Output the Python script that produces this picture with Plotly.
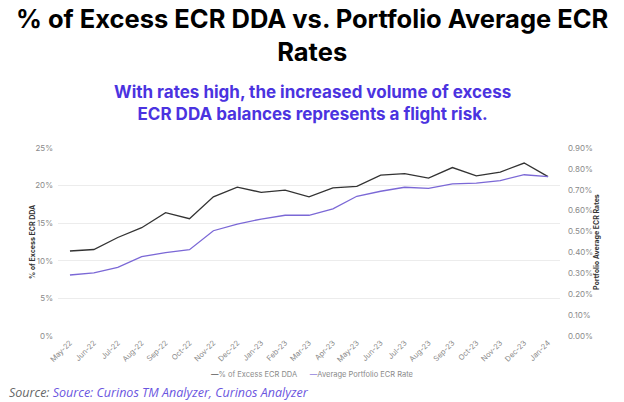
import plotly.graph_objects as go

months = ["May-22", "Jun-22", "Jul-22", "Aug-22", "Sep-22", "Oct-22", "Nov-22", "Dec-22",
          "Jan-23", "Feb-23", "Mar-23", "Apr-23", "May-23", "Jun-23", "Jul-23", "Aug-23",
          "Sep-23", "Oct-23", "Nov-23", "Dec-23", "Jan-24"]
excess_ecr_dda = [11.3, 11.5, 13.1, 14.4, 16.4, 15.6, 18.5, 19.8, 19.1, 19.4, 18.5,
                  19.7, 19.9, 21.4, 21.6, 21.0, 22.4, 21.3, 21.8, 23.0, 21.2]
avg_portfolio_ecr = [0.292, 0.302, 0.329, 0.380, 0.399, 0.413, 0.504, 0.536, 0.560, 0.578, 0.578,
                     0.609, 0.669, 0.693, 0.712, 0.707, 0.728, 0.732, 0.744, 0.772, 0.763]
left_ticks = [0, 5, 10, 15, 20, 25]
right_ticks = [0, 0.1, 0.2, 0.3, 0.4, 0.5, 0.6, 0.7, 0.8, 0.9]

BLACK = "#333333"
PURPLE = "#7b68d6"
ACCENT = "#4b33e0"
GRAY = "#8a8a8a"

W, H = 624, 402
ML, MR, MT, MB = 58, 64, 148, 66
PW = W - ML - MR
XC = (W / 2 - ML) / PW  # paper x of figure centre

fig = go.Figure()
fig.add_trace(go.Scatter(x=months, y=excess_ecr_dda, mode="lines", name="% of Excess ECR DDA",
                         line=dict(color=BLACK, width=1.3), yaxis="y"))
fig.add_trace(go.Scatter(x=months, y=avg_portfolio_ecr, mode="lines", name="Average Portfolio ECR Rate",
                         line=dict(color=PURPLE, width=1.3), yaxis="y2"))

fig.update_layout(
    width=W, height=H,
    margin=dict(l=ML, r=MR, t=MT, b=MB),
    paper_bgcolor="white", plot_bgcolor="white",
    showlegend=False,
    font=dict(family="Inter, sans-serif", color=GRAY, size=8),
    xaxis=dict(type="category", range=[-0.5, 20.5], tickangle=-45, showgrid=False,
               tickfont=dict(size=7.5, color=GRAY), ticks="", showline=False, zeroline=False),
    yaxis=dict(range=[0, 25], tickvals=left_ticks, ticktext=[f"{v}%" for v in left_ticks],
               showgrid=True, gridcolor="#ececec", gridwidth=1, zeroline=False,
               tickfont=dict(size=8, color=GRAY), ticks="", ticklabelstandoff=4),
    yaxis2=dict(range=[0, 0.9], overlaying="y", side="right", tickvals=right_ticks,
                ticktext=[f"{v:.2f}%" for v in right_ticks], showgrid=False, zeroline=False,
                tickfont=dict(size=8, color=GRAY), ticks="", ticklabelstandoff=7),
)

# axis titles
fig.add_annotation(text="<b>% of Excess ECR DDA</b>", textangle=-90,
                   xref="paper", yref="paper", x=0, xshift=32 - ML, y=0.5,
                   xanchor="center", yanchor="middle", showarrow=False,
                   font=dict(family="Inter, sans-serif", size=7, color=BLACK))
fig.add_annotation(text="<b>Portfolio Average ECR Rates</b>", textangle=-90,
                   xref="paper", yref="paper", x=1, xshift=596 - (W - MR), y=0.5,
                   xanchor="center", yanchor="middle", showarrow=False,
                   font=dict(family="Inter, sans-serif", size=7, color=BLACK))

fig.add_annotation(text="<b>% of Excess ECR DDA vs. Portfolio Average ECR<br>Rates</b>",
                   xref="paper", yref="paper", x=XC, y=1, yshift=MT - 1,
                   xanchor="center", yanchor="top", showarrow=False,
                   font=dict(family="Inter, sans-serif", size=25.5, color="#000000"), align="center")
fig.add_annotation(text="<b>With rates high, the increased volume of excess<br>ECR DDA balances represents a flight risk.</b>",
                   xref="paper", yref="paper", x=XC, y=1, yshift=MT - 80,
                   xanchor="center", yanchor="top", showarrow=False,
                   font=dict(family="Inter, sans-serif", size=17, color=ACCENT), align="center")
fig.add_annotation(text=f"<span style='color:{BLACK}'>—</span>% of Excess ECR DDA"
                        f"      <span style='color:{PURPLE}'>—</span>Average Portfolio ECR Rate",
                   xref="paper", yref="paper", x=XC, y=0, yshift=-38,
                   xanchor="center", yanchor="middle", showarrow=False,
                   font=dict(family="Inter, sans-serif", size=7.5, color=GRAY))
fig.add_annotation(text="<i>Source: <span style='color:#6a55e0'>Source: Curinos TM Analyzer, Curinos Analyzer</span></i>",
                   xref="paper", yref="paper", x=(7 - ML) / PW, y=0, yshift=-56,
                   xanchor="left", yanchor="middle", showarrow=False,
                   font=dict(family="Open Sans, sans-serif", size=12.5, color="#666666"))

fig.write_html("out.html", config={"displayModeBar": False},
               post_script="document.body.style.margin='0';document.body.style.overflow='hidden';")
